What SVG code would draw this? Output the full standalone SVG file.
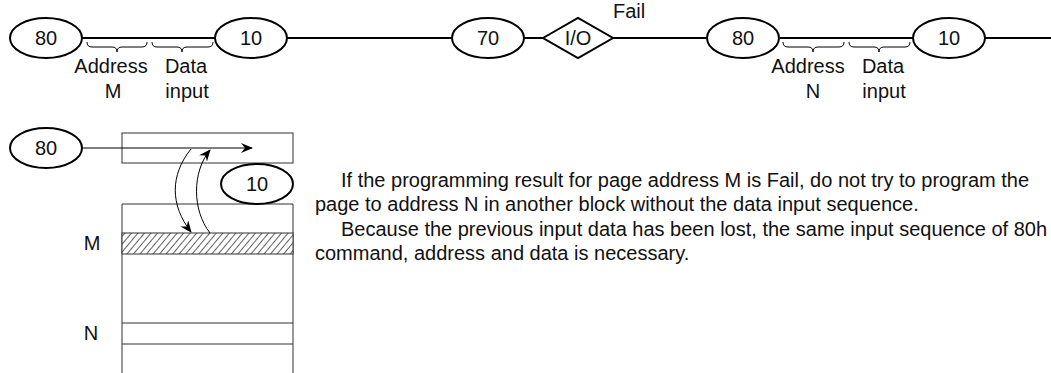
<svg xmlns="http://www.w3.org/2000/svg" width="1051" height="373" viewBox="0 0 1051 373">
<style>
text{font-family:"Liberation Sans",Arial,sans-serif;font-size:20px;fill:#111}
.c{text-anchor:middle}
.node{fill:#fff;stroke:#000;stroke-width:2}
.line{stroke:#000;stroke-width:2;fill:none}
.thin{stroke:#000;stroke-width:1;fill:none}
.box{fill:none;stroke:#333;stroke-width:1}
</style>
<defs>
<pattern id="hatch" width="5" height="5" patternUnits="userSpaceOnUse" patternTransform="rotate(40)">
<rect width="5" height="5" fill="#fff"/>
<line x1="0" y1="0" x2="0" y2="5" stroke="#444" stroke-width="1.7"/>
</pattern>
<marker id="arr" markerWidth="12" markerHeight="10" refX="11" refY="5" orient="auto" markerUnits="userSpaceOnUse">
<path d="M0,0 L12,5 L0,10 L4,5 Z" fill="#000"/>
</marker>
</defs>
<g id="register"><rect class="box" x="122" y="133" width="171" height="30"/></g>
<g id="memory">
<path class="box" d="M122,373 L122,204 L293,204 L293,373"/>
<rect x="122" y="233" width="171" height="21" fill="url(#hatch)" stroke="#333" stroke-width="1"/>
<line stroke="#333" stroke-width="1" x1="122" y1="323" x2="293" y2="323"/>
<line stroke="#333" stroke-width="1" x1="122" y1="344" x2="293" y2="344"/>
<text class="c" x="92" y="250">M</text>
<text class="c" x="91" y="340">N</text>
</g>
<g id="connectors">
<line class="line" x1="82" y1="38" x2="216" y2="38"/>
<line class="line" x1="287" y1="38" x2="452" y2="38"/>
<line class="line" x1="524" y1="38" x2="543" y2="38"/>
<line class="line" x1="613" y1="38" x2="707" y2="38"/>
<line class="line" x1="780" y1="38" x2="913" y2="38"/>
<line class="line" x1="985" y1="38" x2="1051" y2="38"/>
<line class="thin" x1="82" y1="148" x2="252" y2="148" marker-end="url(#arr)"/>
<path class="thin" d="M191,149 C170,175 170,205 191,232" marker-end="url(#arr)"/>
<path class="thin" d="M210,233 C192,210 192,172 210,150" marker-end="url(#arr)"/>
</g>
<g id="braces">
<path class="thin" d="M87,42 Q87,47 92,47 L112,47 Q117,47 117,52 Q117,47 122,47 L142,47 Q147,47 147,42"/>
<path class="thin" d="M152,42 Q152,47 157,47 L177,47 Q182,47 182,52 Q182,47 187,47 L208,47 Q213,47 213,42"/>
<path class="thin" d="M783,42 Q783,47 788,47 L808,47 Q813,47 813,52 Q813,47 818,47 L839,47 Q844,47 844,42"/>
<path class="thin" d="M849,42 Q849,47 854,47 L874,47 Q879,47 879,52 Q879,47 884,47 L905,47 Q910,47 910,42"/>
</g>
<g id="n80a"><ellipse class="node" cx="46" cy="38" rx="36" ry="20"/><text class="c" x="46" y="45">80</text></g>
<g id="n10a"><ellipse class="node" cx="251" cy="38" rx="36" ry="20"/><text class="c" x="251" y="45">10</text></g>
<g id="n70"><ellipse class="node" cx="488" cy="38" rx="36" ry="20"/><text class="c" x="488" y="45">70</text></g>
<g id="nio"><polygon class="node" points="543,38 578,18 613,38 578,58"/><text class="c" x="578" y="45">I/O</text></g>
<text x="613" y="18">Fail</text>
<g id="n80b"><ellipse class="node" cx="743" cy="38" rx="36" ry="20"/><text class="c" x="743" y="45">80</text></g>
<g id="n10b"><ellipse class="node" cx="949" cy="38" rx="36" ry="20"/><text class="c" x="949" y="45">10</text></g>
<g id="labels">
<text class="c" x="111" y="73">Address</text>
<text class="c" x="113" y="98">M</text>
<text class="c" x="186" y="73">Data</text>
<text class="c" x="187" y="98">input</text>
<text class="c" x="808" y="73">Address</text>
<text class="c" x="813" y="98">N</text>
<text class="c" x="883" y="73">Data</text>
<text class="c" x="884" y="98">input</text>
</g>
<g id="n80c"><ellipse class="node" cx="46" cy="148" rx="36" ry="20"/><text class="c" x="46" y="155">80</text></g>
<g id="n10c"><ellipse class="node" cx="257" cy="184" rx="36" ry="20"/><text class="c" x="257" y="191">10</text></g>
<g id="note">
<text x="341" y="187">If the programming result for page address M is Fail, do not try to program the</text>
<text x="315" y="211">page to address N in another block without the data input sequence.</text>
<text x="341" y="236">Because the previous input data has been lost, the same input sequence of 80h</text>
<text x="315" y="260">command, address and data is necessary.</text>
</g>
</svg>
